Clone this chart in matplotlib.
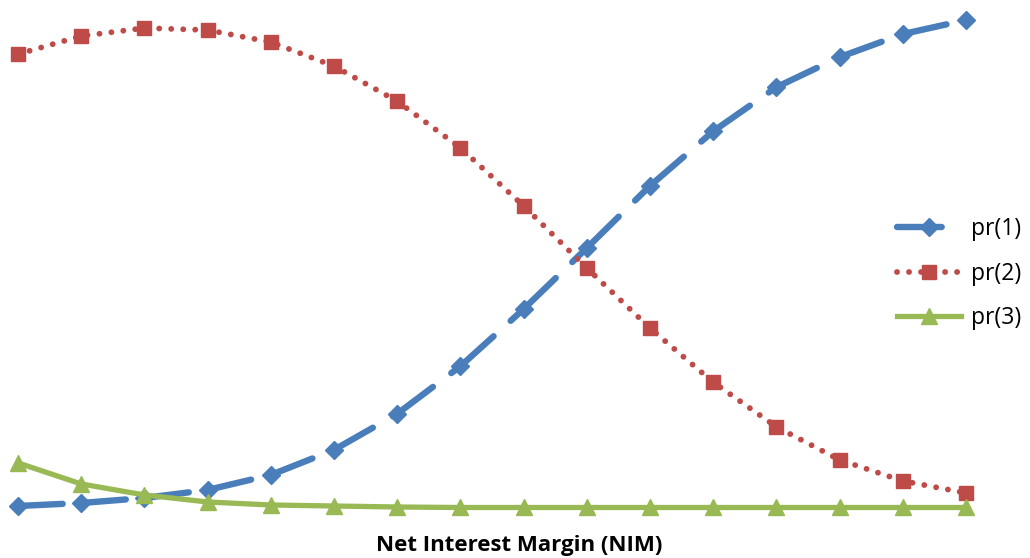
import matplotlib.pyplot as plt
from matplotlib.lines import Line2D

# predicted probabilities over the NIM range (16 evaluation points)
nim_idx = list(range(16))
pr1 = [0.004, 0.010, 0.020, 0.036, 0.066, 0.116, 0.188, 0.283,
       0.397, 0.519, 0.643, 0.752, 0.840, 0.900, 0.946, 0.974]
pr2 = [0.906, 0.942, 0.958, 0.954, 0.930, 0.882, 0.812, 0.719,
       0.603, 0.479, 0.359, 0.251, 0.162, 0.096, 0.054, 0.030]
pr3 = [0.090, 0.048, 0.026, 0.012, 0.006, 0.004, 0.002, 0.001,
       0.001, 0.001, 0.001, 0.001, 0.001, 0.001, 0.001, 0.001]
labels = ['pr(1)', 'pr(2)', 'pr(3)']

blue = '#4a7ebb'
red = '#be4b48'
green = '#98b954'

fig = plt.figure(figsize=(10.3, 5.58), dpi=100)
ax = fig.add_axes([18 / 1030, 50 / 558, 948 / 1030, 501 / 558])
ax.set_xlim(0, 15)
ax.set_ylim(0, 1)
ax.axis('off')

# long dash line, pattern restarts at every point like in Excel
for i in range(len(nim_idx) - 1):
    ax.plot(nim_idx[i:i + 2], pr1[i:i + 2], color=blue, lw=4.6,
            dashes=(7, 3.6), dash_capstyle='round', clip_on=False)
ax.plot(nim_idx, pr1, ls='none', marker='D', ms=9.5, color=blue, clip_on=False)

ax.plot(nim_idx, pr2, color=red, lw=4.2, dashes=(0.01, 2.05), dash_capstyle='round',
        marker='s', ms=10.5, clip_on=False)
ax.plot(nim_idx, pr3, color=green, lw=3.8, marker='^', ms=11.5, clip_on=False)

handles = [
    Line2D([], [], color=blue, lw=4.6, dashes=(7, 3.6), dash_capstyle='round',
           marker='D', ms=9.5),
    Line2D([], [], color=red, lw=4.2, dashes=(0.01, 2.05), dash_capstyle='round',
           marker='s', ms=10.5),
    Line2D([], [], color=green, lw=3.8, marker='^', ms=11.5),
]
fig.legend(handles, labels, loc='upper left', bbox_to_anchor=(897 / 1030, 1 - 217 / 558),
           frameon=False, handlelength=2.8, handletextpad=0.45,
           labelspacing=0.9, borderpad=0, borderaxespad=0,
           prop={'family': 'Open Sans', 'size': 16.5})

fig.text(519 / 1030, 1 - 545 / 558, 'Net Interest Margin (NIM)', ha='center', va='center',
         fontsize=16, fontweight='bold', family='Open Sans')

fig.savefig('out.png', dpi=100)
